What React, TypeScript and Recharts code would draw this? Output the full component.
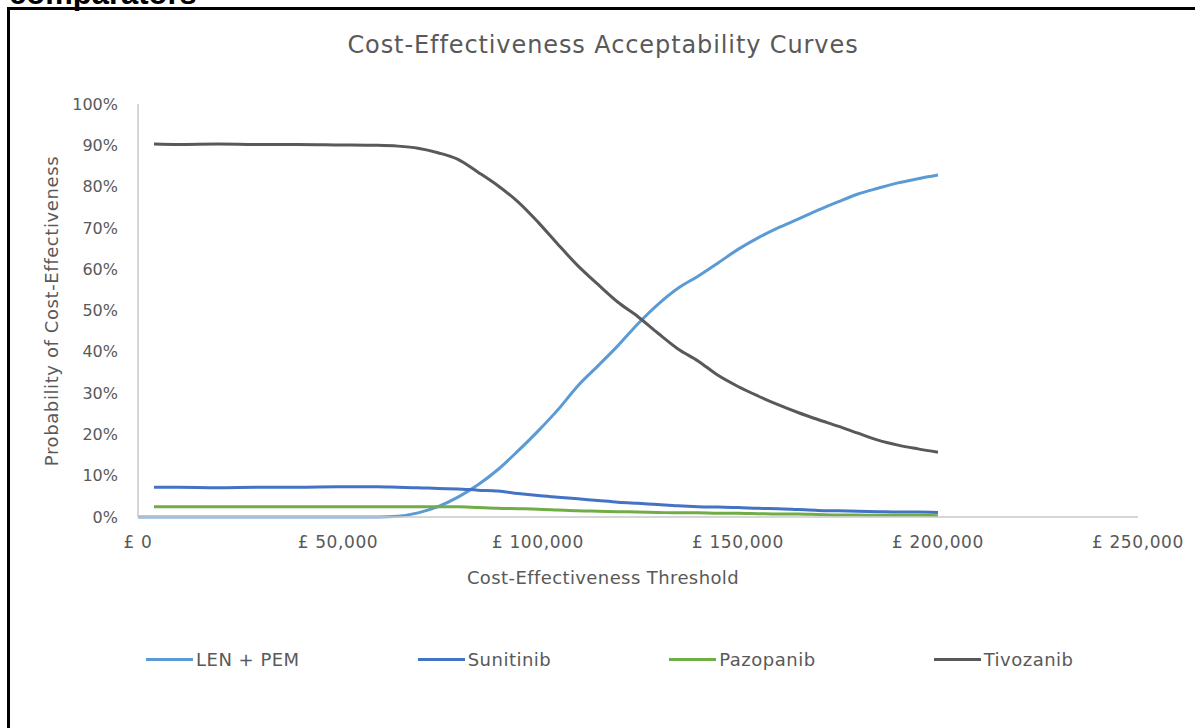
import React from "react";
import { LineChart, Line, XAxis, YAxis } from "recharts";

// thresholds in £
const thresholds = [
  0, 4000, 10000, 20000, 30000, 40000, 50000, 60000, 65000, 70000, 75000,
  80000, 85000, 90000, 95000, 100000, 105000, 110000, 115000, 120000, 125000,
  130000, 135000, 140000, 145000, 150000, 155000, 160000, 165000, 170000,
  175000, 180000, 185000, 190000, 195000, 200000,
];

// probability of cost-effectiveness (%)
const lenPem = [
  0, 0, 0, 0, 0, 0, 0, 0, 0.2, 1.0, 2.5, 4.8, 7.8, 11.5, 16.0, 20.8, 26.0,
  31.8, 36.6, 41.5, 46.8, 51.5, 55.4, 58.3, 61.5, 64.8, 67.6, 70.0, 72.1, 74.3,
  76.3, 78.2, 79.6, 80.9, 81.9, 82.8,
];
const sunitinib = [
  null, 7.2, 7.2, 7.1, 7.2, 7.2, 7.3, 7.3, 7.2, 7.1, 6.9, 6.8, 6.5, 6.3, 5.7,
  5.2, 4.8, 4.4, 4.0, 3.6, 3.3, 3.0, 2.7, 2.5, 2.4, 2.3, 2.1, 2.0, 1.8, 1.6,
  1.5, 1.4, 1.3, 1.2, 1.2, 1.1,
];
const pazopanib = [
  null, 2.5, 2.5, 2.5, 2.5, 2.5, 2.5, 2.5, 2.5, 2.5, 2.5, 2.5, 2.3, 2.1, 2.0,
  1.9, 1.7, 1.5, 1.4, 1.3, 1.2, 1.1, 1.0, 1.0, 0.9, 0.9, 0.8, 0.7, 0.7, 0.6,
  0.5, 0.5, 0.4, 0.4, 0.4, 0.3,
];
const tivozanib = [
  null, 90.3, 90.2, 90.3, 90.2, 90.2, 90.1, 90.0, 89.8, 89.3, 88.2, 86.6, 83.5,
  80.2, 76.3, 71.4, 66.0, 60.8, 56.3, 52.0, 48.5, 44.5, 40.7, 37.8, 34.3, 31.6,
  29.3, 27.2, 25.3, 23.6, 22.0, 20.3, 18.6, 17.4, 16.5, 15.7,
];

const xTicks = [0, 50000, 100000, 150000, 200000, 250000];
const yTicks = [0, 10, 20, 30, 40, 50, 60, 70, 80, 90, 100];

const series = [
  { key: "lenPem", name: "LEN + PEM", color: "#5B9BD5" },
  { key: "sunitinib", name: "Sunitinib", color: "#4472C4" },
  { key: "pazopanib", name: "Pazopanib", color: "#70AD47" },
  { key: "tivozanib", name: "Tivozanib", color: "#595959" },
];

const data = thresholds.map((t, i) => ({
  t,
  lenPem: lenPem[i],
  sunitinib: sunitinib[i],
  pazopanib: pazopanib[i],
  tivozanib: tivozanib[i],
}));

const FONT = "'DejaVu Sans', sans-serif";
const TEXT = "#595959";

const fmtPound = (v: number) => "£ " + v.toLocaleString("en-GB");

function LegendRow() {
  return (
    <div
      style={{
        position: "absolute",
        left: 0,
        top: 649,
        display: "flex",
        alignItems: "center",
        gap: 118,
        paddingLeft: 146,
        fontFamily: FONT,
        fontSize: 18,
        letterSpacing: 0.5,
        color: TEXT,
        whiteSpace: "nowrap",
      }}
    >
      {series.map((s) => (
        <div key={s.key} style={{ display: "flex", alignItems: "center" }}>
          <span
            style={{
              display: "inline-block",
              width: 47,
              height: 3,
              background: s.color,
              marginRight: 3,
            }}
          />
          <span>{s.name}</span>
        </div>
      ))}
    </div>
  );
}

export default function App() {
  return (
    <div
      style={{
        position: "fixed",
        left: 0,
        top: 0,
        width: 1195,
        height: 728,
        overflow: "hidden",
        background: "#fff",
      }}
    >
      {/* heading cut off above the chart box */}
      <svg
        width={300}
        height={12}
        style={{ position: "absolute", left: 0, top: 0 }}
      >
        <text
          x={9}
          y={4}
          fontFamily="'Liberation Sans', Arial, sans-serif"
          fontWeight="bold"
          fontSize={31}
          fill="#000"
        >
          comparators
        </text>
      </svg>
      <div
        style={{
          position: "absolute",
          left: 7,
          top: 7,
          width: 1200,
          height: 740,
          borderLeft: "3px solid #000",
          borderTop: "3px solid #000",
          boxSizing: "border-box",
        }}
      />
      <div
        style={{
          position: "absolute",
          left: 0,
          top: 31,
          width: 1206,
          textAlign: "center",
          fontFamily: FONT,
          fontSize: 24,
          letterSpacing: 0.9,
          color: TEXT,
        }}
      >
        Cost-Effectiveness Acceptability Curves
      </div>
      <div
        style={{
          position: "absolute",
          left: 0,
          top: 567,
          width: 1206,
          textAlign: "center",
          fontFamily: FONT,
          fontSize: 18,
          letterSpacing: 0.4,
          color: TEXT,
        }}
      >
        Cost-Effectiveness Threshold
      </div>
      <div
        style={{
          position: "absolute",
          left: 51,
          top: 311,
          transform: "translate(-50%, -50%) rotate(-90deg)",
          whiteSpace: "nowrap",
          fontFamily: FONT,
          fontSize: 18,
          letterSpacing: 0.6,
          color: TEXT,
        }}
      >
        Probability of Cost-Effectiveness
      </div>
      <div style={{ position: "absolute", left: 0, top: 0 }}>
        <LineChart
          width={1195}
          height={728}
          data={data}
          margin={{ top: 104, right: 57, bottom: 181, left: 0 }}
        >
          <XAxis
            dataKey="t"
            type="number"
            domain={[0, 250000]}
            ticks={xTicks}
            tickFormatter={fmtPound}
            axisLine={{ stroke: "#C8C8C8", strokeWidth: 1.5 }}
            tickLine={false}
            tickSize={0}
            tickMargin={19}
            height={30}
            tick={{ fill: TEXT, fontSize: 17, fontFamily: FONT, letterSpacing: 0.6 }}
          />
          <YAxis
            type="number"
            domain={[0, 100]}
            ticks={yTicks}
            tickFormatter={(v: number) => `${v}%`}
            axisLine={{ stroke: "#C8C8C8", strokeWidth: 1.5 }}
            tickLine={false}
            tickSize={0}
            tickMargin={20}
            width={138}
            tick={{ fill: TEXT, fontSize: 16, fontFamily: FONT }}
          />
          {series.map((s) => (
            <Line
              key={s.key}
              type="monotone"
              dataKey={s.key}
              name={s.name}
              stroke={s.color}
              strokeWidth={3}
              dot={false}
              activeDot={false}
              isAnimationActive={false}
            />
          ))}
        </LineChart>
      </div>
      <LegendRow />
    </div>
  );
}
